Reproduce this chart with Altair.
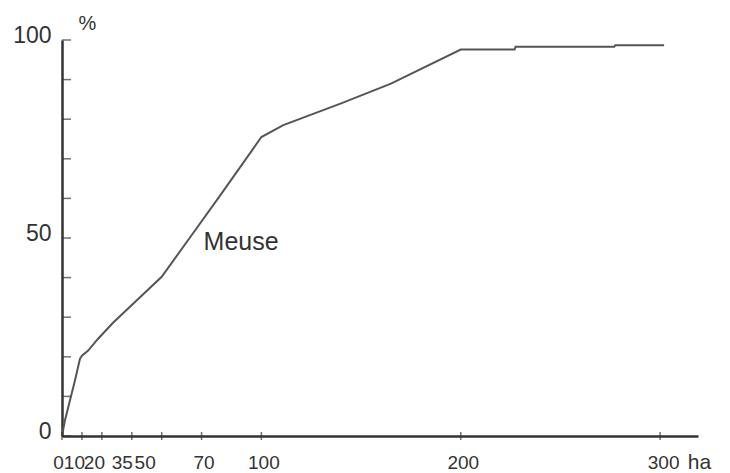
import altair as alt
import pandas as pd

# Cumulative share (%) vs farm size (ha) - Meuse
ha = [0, 1.5, 4, 6.5, 9, 10, 13, 18, 25.6, 39, 50, 64, 79, 100, 111, 140, 165, 200, 227, 227.5, 277, 277.5, 302]
pct = [0, 4, 9, 14, 19.5, 20.3, 21.5, 24.5, 28.6, 35, 40.2, 50, 60.5, 75.5, 78.5, 84, 89, 97.6, 97.6, 98.3, 98.3, 98.7, 98.7]

x_ticks = [0, 10, 20, 35, 50, 70, 100, 200, 300]
y_ticks = [0, 10, 20, 30, 40, 50, 60, 70, 80, 90, 100]
y_labels = [0, 50, 100]

series_label = ["Meuse"]
series_label_x = [71]
series_label_y = [47]

INK = "#333333"
LINE = "#555555"
FONT = "Liberation Sans, Arial, sans-serif"

df = pd.DataFrame({"ha": ha, "pct": pct})
xt = pd.DataFrame({"v": x_ticks})
yt = pd.DataFrame({"v": y_ticks})
lab = pd.DataFrame({"t": series_label, "x": series_label_x, "y": series_label_y})

xscale = alt.Scale(domain=[0, 319], nice=False, zero=False)
yscale = alt.Scale(domain=[0, 100], nice=False)

offset_cond = {
    "condition": [
        {"test": "datum.value == 0", "value": -4},
        {"test": "datum.value == 10", "value": -8},
        {"test": "datum.value == 20", "value": -8},
        {"test": "datum.value == 35", "value": -10},
        {"test": "datum.value == 50", "value": -17},
        {"test": "datum.value == 300", "value": 3},
    ],
    "value": 2,
}

line = alt.Chart(df).mark_line(color=LINE, strokeWidth=2).encode(
    x=alt.X(
        "ha:Q",
        scale=xscale,
        axis=alt.Axis(
            values=x_ticks,
            ticks=False,
            grid=False,
            domainColor=INK,
            domainWidth=2.5,
            labelFont=FONT,
            labelFontSize=19,
            labelColor=INK,
            labelBaseline="alphabetic",
            labelPadding=32,
            labelOverlap=False,
            labelFlush=False,
            labelOffset=offset_cond,
            title="ha",
            titleFont=FONT,
            titleFontSize=21,
            titleFontWeight="normal",
            titleColor=INK,
            titleAlign="center",
            titleBaseline="alphabetic",
            titleX=637,
            titleY=32,
        ),
    ),
    y=alt.Y(
        "pct:Q",
        scale=yscale,
        axis=alt.Axis(
            values=y_labels,
            ticks=False,
            grid=False,
            domainColor=INK,
            domainWidth=2.5,
            labelFont=FONT,
            labelFontSize=23,
            labelColor=INK,
            labelPadding=11,
            labelOffset=-5,
            labelBaseline="middle",
            title="%",
            titleFont=FONT,
            titleFontSize=20,
            titleFontWeight="normal",
            titleColor=INK,
            titleAngle=0,
            titleAlign="center",
            titleBaseline="middle",
            titleX=25,
            titleY=-17,
        ),
    ),
)

xtick = alt.Chart(xt).mark_tick(orient="vertical", size=8, thickness=1.5, color=INK).encode(
    x=alt.X("v:Q", scale=xscale),
    y=alt.Y(datum=0, scale=yscale),
)

ytick = alt.Chart(yt).mark_tick(orient="horizontal", size=9, thickness=1.5, color=INK, xOffset=4.5).encode(
    y=alt.Y("v:Q", scale=yscale),
    x=alt.X(datum=0, scale=xscale),
)

text = alt.Chart(lab).mark_text(
    align="left", baseline="alphabetic", font=FONT, fontSize=25, color=INK
).encode(
    x=alt.X("x:Q", scale=xscale),
    y=alt.Y("y:Q", scale=yscale),
    text="t:N",
)

chart = (
    alt.layer(line, xtick, ytick, text)
    .properties(
        width=636,
        height=396,
        autosize=alt.AutoSizeParams(type="none"),
        padding={"left": 62, "top": 40, "right": 32, "bottom": 37},
        background="white",
    )
    .configure_view(stroke=None)
)

chart.save("out.html", embed_options={"renderer": "svg", "actions": False})
